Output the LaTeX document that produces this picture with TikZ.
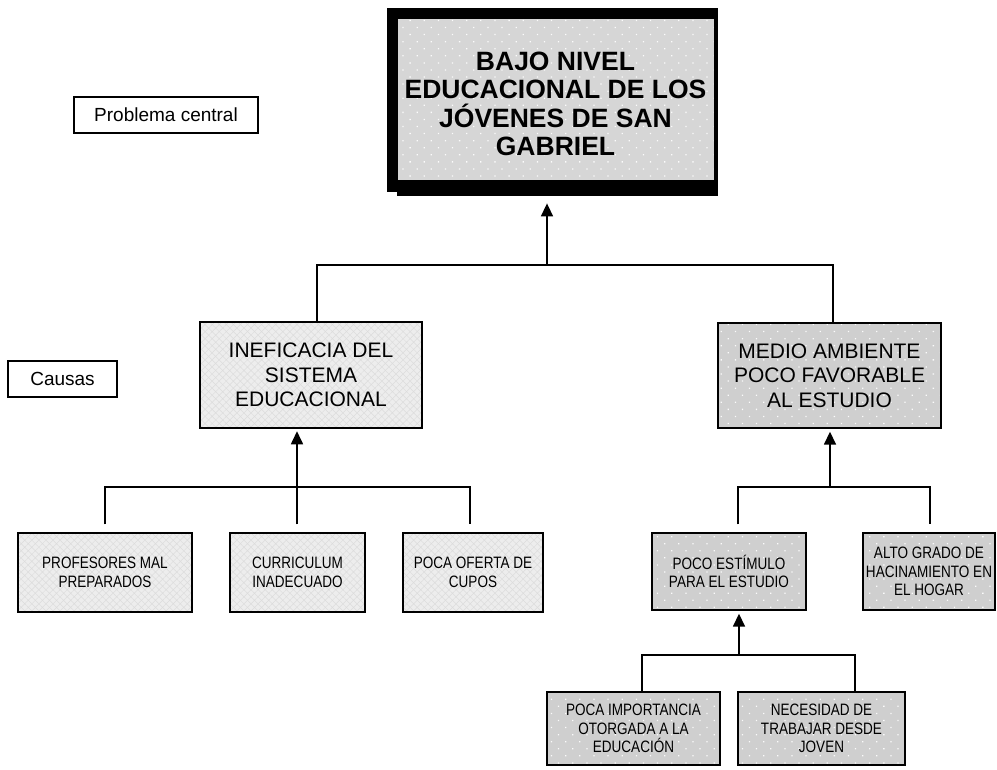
\documentclass[tikz,border=0pt]{standalone}
\usepackage{fontspec}
\setmainfont{Liberation Sans}
\newfontfamily\narrowfont[FakeStretch=0.82]{Liberation Sans}
\usetikzlibrary{arrows.meta,patterns.meta}

\definecolor{titlegray}{HTML}{D6D6D6}
\definecolor{darkbox}{HTML}{CFCFCF}
\definecolor{lightbox}{HTML}{EDEDED}
\definecolor{hatchgray}{HTML}{DCDCDC}

\tikzset{
  boxbase/.style={draw=black, line width=1.4pt, align=center, inner sep=2pt,
    anchor=center, text=black},
  dotted box/.style={boxbase, preaction={fill=darkbox},
    pattern={Dots[distance=10pt,radius=0.9pt,angle=45]}, pattern color=white!92!darkbox},
  hatched box/.style={boxbase, preaction={fill=lightbox},
    pattern={Hatch[distance=5pt,angle=45,line width=0.5pt]}, pattern color=hatchgray},
  labelbox/.style={draw=black, line width=1.1pt, fill=white, align=center,
    font=\fontsize{19}{22}\selectfont},
  causefont/.style={font=\fontsize{21}{24.5}\selectfont},
  smallfont/.style={font=\narrowfont\fontsize{16.5}{18.5}\selectfont},
  conn/.style={draw=black, line width=1.6pt},
  arr/.style={conn, -{Triangle[length=13pt,width=12pt]}}
}

\begin{document}
\begin{tikzpicture}[x=1pt,y=-1pt]
\useasboundingbox (0,0) rectangle (997,770);

% central problem box with its heavy frame and shadow
\fill[black] (387,8) rectangle (718,192);
\fill[black] (397,20) rectangle (718,196);
\node[boxbase, preaction={fill=titlegray},
      pattern={Dots[distance=10pt,radius=0.9pt,angle=45]}, pattern color=white!92!titlegray,
      minimum width=317pt, minimum height=162pt, line width=0.8pt,
      font=\bfseries\fontsize{26.5}{28.5}\selectfont]
  (title) at (555.5,99)
  {\raisebox{-5pt}[\height][\depth]{\parbox{310pt}{\centering BAJO NIVEL\\EDUCACIONAL DE LOS\\JÓVENES DE SAN\\GABRIEL}}};

% side labels
\node[labelbox, minimum width=184pt, minimum height=36pt] (lab1) at (166,115) {Problema central};
\node[labelbox, minimum width=109pt, minimum height=36pt] (lab2) at (62.5,379) {Causas};

% direct causes
\node[hatched box, causefont, minimum width=222pt, minimum height=106pt]
  (c1) at (311,375) {INEFICACIA DEL\\SISTEMA\\EDUCACIONAL};
\node[dotted box, causefont, minimum width=223pt, minimum height=105pt]
  (c2) at (829.5,375.5) {MEDIO AMBIENTE\\POCO FAVORABLE\\AL ESTUDIO};

% second level causes
\node[hatched box, smallfont, minimum width=174pt, minimum height=79pt]
  (s1) at (105,572.5) {PROFESORES MAL\\PREPARADOS};
\node[hatched box, smallfont, minimum width=135pt, minimum height=79pt]
  (s2) at (297.5,572.5) {CURRICULUM\\INADECUADO};
\node[hatched box, smallfont, minimum width=140pt, minimum height=79pt]
  (s3) at (473,572.5) {POCA OFERTA DE\\CUPOS};
\node[dotted box, smallfont, minimum width=154pt, minimum height=77pt]
  (s4) at (729,571.5) {POCO ESTÍMULO\\PARA EL ESTUDIO};
\node[dotted box, smallfont, minimum width=132pt, minimum height=77pt]
  (s5) at (929,571.5) {ALTO GRADO DE\\HACINAMIENTO EN\\EL HOGAR};

% third level causes
\node[dotted box, smallfont, minimum width=173pt, minimum height=73pt]
  (t1) at (633.5,728.5) {POCA IMPORTANCIA\\OTORGADA A LA\\EDUCACIÓN};
\node[dotted box, smallfont, minimum width=167pt, minimum height=73pt]
  (t2) at (821.5,728.5) {NECESIDAD DE\\TRABAJAR DESDE\\JOVEN};

% junction points of the connector buses
\coordinate (k0) at (547,265);
\coordinate (kL) at (317,265);
\coordinate (kR) at (833,265);
\coordinate (m0) at (297,487);
\coordinate (m1) at (105,487);
\coordinate (m3) at (470,487);
\coordinate (n0) at (830,487);
\coordinate (n1) at (738,487);
\coordinate (n2) at (930,487);
\coordinate (p0) at (739,655);
\coordinate (p1) at (642,655);
\coordinate (p2) at (855,655);

% causes -> central problem
\draw[conn] (kL |- c1.north) -- (kL) -- (kR) -- (kR |- c2.north);
\draw[arr, shorten >=23pt] (k0) -- (k0 |- title.south);

% left branch (the drops stop short of the boxes)
\draw[conn] ([yshift=8pt]m1 |- s1.north) -- (m1) -- (m3) -- ([yshift=8pt]m3 |- s3.north);
\draw[conn] ([yshift=8pt]m0 |- s2.north) -- (m0);
\draw[arr, shorten >=3pt] (m0) -- (m0 |- c1.south);

% right branch
\draw[conn] ([yshift=8pt]n1 |- s4.north) -- (n1) -- (n2) -- ([yshift=8pt]n2 |- s5.north);
\draw[arr, shorten >=3pt] (n0) -- (n0 |- c2.south);

% lower right branch
\draw[conn] (p1 |- t1.north) -- (p1) -- (p2) -- (p2 |- t2.north);
\draw[arr, shorten >=3pt] (p0) -- (p0 |- s4.south);
\end{tikzpicture}
\end{document}
